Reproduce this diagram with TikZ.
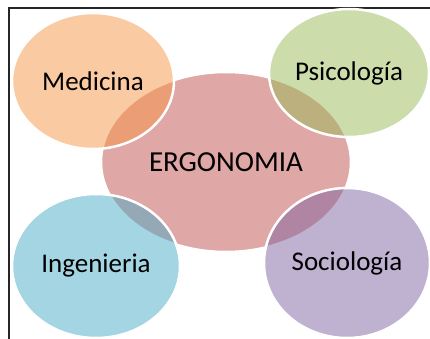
\documentclass[tikz,border=0pt]{standalone}
\usepackage{fontspec}
\setmainfont{Carlito}
\usetikzlibrary{shapes.geometric}
\definecolor{accRed}{HTML}{C0504D}
\definecolor{accOrange}{HTML}{F79646}
\definecolor{accGreen}{HTML}{9BBB59}
\definecolor{accAqua}{HTML}{4BACC6}
\definecolor{accPurple}{HTML}{8064A2}
\tikzset{
  blob/.style={ellipse, inner sep=0pt, draw=white, line width=2.5pt,
    fill opacity=0.5, text opacity=1, draw opacity=1,
    font=\fontsize{27}{31}\selectfont, text=black},
}
\begin{document}
\begin{tikzpicture}[x=1pt,y=-1pt]
\useasboundingbox (0,0) rectangle (430,339);
\fill[white] (0,0) rectangle (430,339);
\coordinate (tl) at (9,8);
\coordinate (tr) at (430,8);
\coordinate (bl) at (9,339);
\draw[line width=1.4pt, black!85] (tr) -- (tl) -- (bl);
\node[blob, fill=accRed, minimum width=250pt, minimum height=180pt, font=\fontsize{29}{33}\selectfont] (erg) at (226,162) {ERGONOMIA};
\node[blob, fill=accOrange, minimum width=162pt, minimum height=136pt] (med) at (93,81) {Medicina};
\node[blob, fill=accGreen, minimum width=160pt, minimum height=128pt] (psi) at (349,73) {Psicología};
\node[blob, fill=accAqua, minimum width=168pt, minimum height=144pt] (ing) at (96,266) {Ingenieria};
\node[blob, fill=accPurple, minimum width=166pt, minimum height=150pt] (soc) at (347,263) {Sociología};
\end{tikzpicture}
\end{document}
